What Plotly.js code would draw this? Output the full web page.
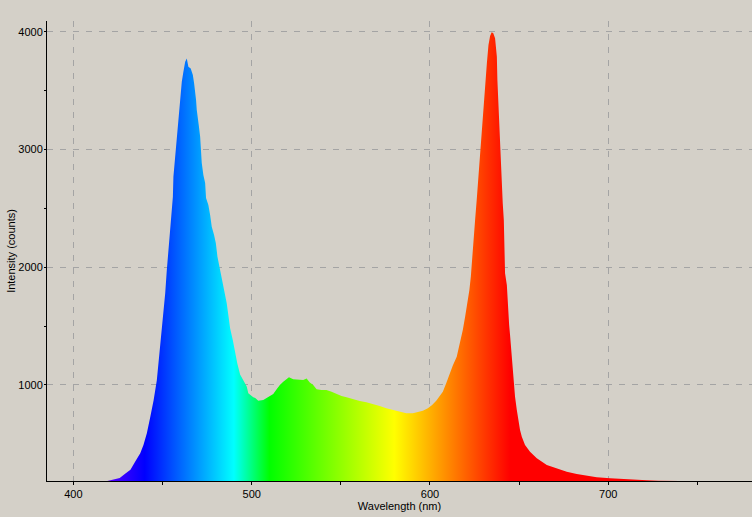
<!DOCTYPE html>
<html>
<head>
<meta charset="utf-8">
<script src="https://cdn.plot.ly/plotly-3.0.1.min.js"></script>
<style>
  html, body { margin: 0; padding: 0; background: #d4d0c8; overflow: hidden; }
  #spectrum { width: 752px; height: 517px; }
</style>
</head>
<body>
<div id="spectrum"></div>
<script>
// wavelength (nm) and intensity (counts)
var wavelength = [
  419, 420.6, 423, 426, 429, 432, 434.7, 437.5, 439.3, 441.2,
  443, 445, 446.8, 447.7, 448.7, 449.6, 450.5, 451.5, 452.4, 453.3,
  453.9, 454.8, 455.8, 456.1, 457.1, 457.6, 458.4, 458.9, 459.5, 460.3,
  460.8, 461.7, 462.7, 463.6, 464.5, 465.8, 467, 467.7, 468.3, 468.8,
  469.2, 469.6, 470.3, 471.1, 471.4, 472, 472.9, 473.9, 474.4, 475.7,
  476.7, 477.6, 478.9, 479.9, 480.8, 481.9, 483.2, 484.5, 485.3, 486,
  486.9, 487.9, 489.4, 490.7, 491.9, 493.5, 495.3, 496.3, 497.2, 498.1,
  499.1, 500.9, 502, 503.7, 506.5, 509.3, 512.1, 514, 515.8, 517.7,
  519.6, 520.9, 523.3, 526.1, 528.9, 530.8, 532.6, 534.5, 536.4, 539.1,
  541.9, 544.8, 547.6, 550.4, 553.2, 556.9, 560.6, 564.3, 568.1, 571.8,
  575.5, 579.2, 583, 586.7, 590.4, 593.2, 596, 598.8, 601.2, 603.5,
  605.4, 607.2, 609.1, 611, 612.8, 615, 616.9, 618.4, 619.7, 621,
  622.1, 622.9, 623.4, 624.3, 625.3, 626.2, 627.1, 628.1, 629, 629.6,
  630.3, 631.1, 631.9, 632.8, 633.7, 634.6, 635.5, 636.5, 637.1, 637.5,
  637.8, 638.4, 638.9, 639.3, 639.9, 640.8, 641.4, 641.8, 642.1, 643.1,
  643.6, 644.4, 644.9, 645.5, 646, 646.8, 647.7, 648.7, 649.6, 650.5,
  651.5, 653.3, 656.1, 659.9, 665.5, 671.1, 676.7, 682.3, 688, 693.5,
  701, 708.5, 716, 721.6, 728, 740
];
var intensity = [
  184, 190, 195, 210, 245, 280, 350, 420, 490, 590,
  720, 870, 1040, 1185, 1310, 1470, 1640, 1780, 1977, 2150,
  2300, 2487, 2600, 2770, 2940, 3080, 3166, 3310, 3395, 3480,
  3577, 3662, 3747, 3775, 3705, 3690, 3634, 3563, 3506, 3421,
  3336, 3268, 3209, 3110, 2997, 2886, 2784, 2716, 2589, 2529,
  2444, 2345, 2274, 2204, 2090, 2005, 1892, 1807, 1760, 1694,
  1595, 1482, 1382, 1270, 1184, 1090, 1040, 1014, 986, 929,
  915, 895, 890, 866, 872, 895, 923, 963, 1000, 1028,
  1048, 1065, 1048, 1042, 1042, 1054, 1020, 1000, 963, 958,
  958, 943, 923, 907, 895, 878, 864, 853, 839, 822,
  802, 788, 771, 760, 760, 771, 782, 802, 830, 866,
  901, 943, 1014, 1099, 1165, 1240, 1354, 1467, 1580, 1694,
  1807, 1920, 2034, 2160, 2402, 2572, 2770, 2968, 3138, 3280,
  3436, 3591, 3733, 3889, 3965, 3997, 3988, 3946, 3861, 3790,
  3591, 3365, 3223, 2997, 2770, 2544, 2402, 2175, 1949, 1850,
  1665, 1510, 1425, 1297, 1190, 1042, 901, 788, 688, 618,
  561, 490, 433, 377, 320, 292, 263, 244, 227, 216,
  207, 199, 193, 190, 186, 184
];
var xTicks = [400, 500, 600, 700];
var yTicks = [1000, 2000, 3000, 4000];
var yMinorTicks = [1500, 2500, 3500];

// visible spectrum colour for a wavelength (piecewise linear)
function specColor(w) {
  var r = 0, g = 0, b = 0;
  if (w < 440) { r = (440 - w) / 60; b = 1; }
  else if (w < 490) { g = (w - 440) / 50; b = 1; }
  else if (w < 510) { g = 1; b = (510 - w) / 20; }
  else if (w < 580) { r = (w - 510) / 70; g = 1; }
  else if (w < 645) { r = 1; g = (645 - w) / 65; }
  else { r = 1; }
  return 'rgb(' + Math.round(r * 255) + ',' + Math.round(g * 255) + ',' + Math.round(b * 255) + ')';
}

var gStart = 380, gStop = 780;
var stops = [380, 440, 490, 510, 580, 645, 780];
var colorscale = stops.map(function (w) {
  return [(w - gStart) / (gStop - gStart), specColor(w)];
});

var bg = '#d4d0c8';
var font = { family: 'Liberation Sans, Arial, sans-serif', size: 11, color: '#000' };

var data = [{
  type: 'scatter',
  mode: 'lines',
  x: wavelength,
  y: intensity,
  fill: 'tozeroy',
  line: { width: 0, color: 'rgba(0,0,0,0)' },
  fillgradient: { type: 'horizontal', start: gStart, stop: gStop, colorscale: colorscale },
  hoverinfo: 'x+y'
}];

var layout = {
  width: 752,
  height: 517,
  margin: { l: 47, r: 0, t: 21, b: 36, pad: 0 },
  paper_bgcolor: bg,
  plot_bgcolor: bg,
  font: font,
  showlegend: false,
  xaxis: {
    range: [385.2, 780.6],
    tickmode: 'array',
    tickvals: xTicks,
    ticks: 'outside',
    ticklen: 3,
    tickcolor: '#000',
    showline: true,
    linecolor: '#000',
    linewidth: 1,
    showgrid: true,
    gridcolor: '#a4a4a4',
    griddash: '6px,7px',
    zeroline: false,
    minor: { dtick: 50, tick0: 450, ticks: 'outside', ticklen: 3, tickcolor: '#000', showgrid: false },
    title: { text: 'Wavelength (nm)', font: font, standoff: 2 }
  },
  yaxis: {
    range: [184, 4093],
    tickmode: 'array',
    tickvals: yTicks,
    ticks: 'outside',
    ticklen: 2,
    tickcolor: '#000',
    ticklabelstandoff: -1,
    showline: true,
    linecolor: '#000',
    linewidth: 1,
    showgrid: true,
    gridcolor: '#a4a4a4',
    griddash: '6px,7px',
    zeroline: false,
    minor: { tickmode: 'array', tickvals: yMinorTicks, ticks: 'outside', ticklen: 2, tickcolor: '#000', showgrid: false },
    title: { text: 'Intensity (counts)', font: font, standoff: 0 }
  }
};

Plotly.newPlot('spectrum', data, layout, { displayModeBar: false, staticPlot: true });
</script>
</body>
</html>
